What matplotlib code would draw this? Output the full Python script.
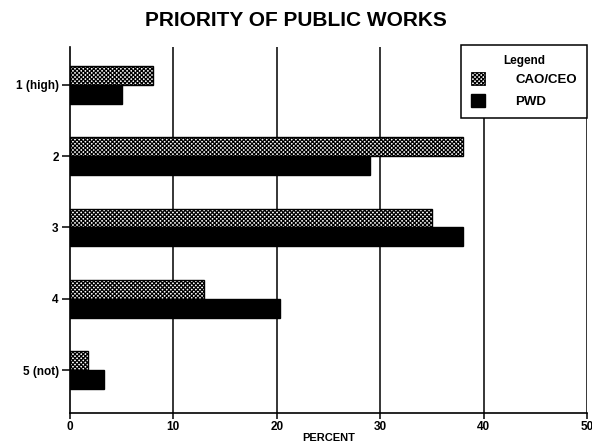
import numpy as np
import matplotlib
matplotlib.use('Agg')
import matplotlib.pyplot as plt
from matplotlib.patches import Patch

# survey answers, percent of respondents per priority level
priorityLabels = ['1 (high)', '2', '3', '4', '5 (not)']
caoCeoPercent = [8, 38, 35, 13, 1.8]
pwdPercent = [5, 29, 38, 20.3, 3.3]
seriesNames = ['CAO/CEO', 'PWD']
xTicks = [0, 10, 20, 30, 40, 50]


def main():
    plt.rcParams['font.family'] = ['Liberation Sans', 'DejaVu Sans']
    plt.rcParams['font.weight'] = 'bold'
    plt.rcParams['hatch.linewidth'] = 0.9

    fig = plt.figure(figsize=(5.92, 4.43), dpi=100)
    ax = fig.add_axes([0.118, 0.068, 0.874, 0.826])

    y = np.arange(len(priorityLabels))
    barHeight = 0.265
    stipple = 'xxxxxxxx'

    ax.barh(y - barHeight / 2, caoCeoPercent, height=barHeight, color='white',
            edgecolor='black', hatch=stipple, linewidth=1, zorder=3)
    ax.barh(y + barHeight / 2, pwdPercent, height=barHeight, color='black',
            edgecolor='black', linewidth=1, zorder=3)

    for x in xTicks[1:]:
        ax.axvline(x, color='black', linewidth=1.1, zorder=1)

    ax.set_xlim(0, 50)
    ax.set_ylim(4.6, -0.53)
    ax.set_xticks(xTicks)
    ax.set_yticks(y)
    ax.set_yticklabels(priorityLabels)

    for side in ['top', 'right']:
        ax.spines[side].set_visible(False)
    for side in ['left', 'bottom']:
        ax.spines[side].set_linewidth(1.2)

    ax.tick_params(axis='y', length=6, width=1.1, labelsize=8.5, pad=2)
    ax.tick_params(axis='x', length=4, width=1.1, labelsize=8.5, pad=2)

    ax.set_xlabel('PERCENT', fontsize=8, fontweight='bold', labelpad=0)
    fig.text(0.5, 0.953, 'PRIORITY OF PUBLIC WORKS', ha='center', va='center',
             fontsize=15, fontweight='bold')

    handles = [Patch(facecolor='white', edgecolor='black', hatch=stipple, linewidth=0.6),
               Patch(facecolor='black', edgecolor='black')]
    leg = ax.legend(handles, seriesNames, loc='upper right',
                    bbox_to_anchor=(587 / 592, 1 - 45 / 443),
                    bbox_transform=fig.transFigure, borderaxespad=0,
                    title='Legend', fontsize=9.5, title_fontsize=8.5,
                    handlelength=1.05, handleheight=1.1, handletextpad=2.3,
                    borderpad=0.75, labelspacing=0.6, fancybox=False,
                    framealpha=1, edgecolor='black')
    leg.get_frame().set_linewidth(1.1)
    leg.get_title().set_fontweight('bold')
    leg._legend_box.sep = 4
    leg.set_zorder(5)

    plt.savefig('out.png', dpi=100)


if __name__ == '__main__':
    main()
